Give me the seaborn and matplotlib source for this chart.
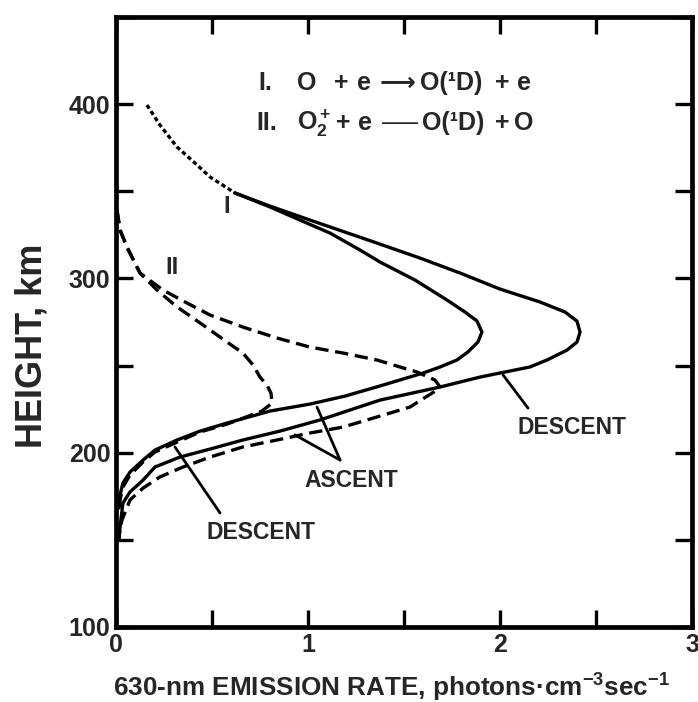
import matplotlib
matplotlib.use("Agg")
import matplotlib.pyplot as plt
import numpy as np
import pandas as pd
import seaborn as sns

# ---------------- data ----------------
i_top_x = [0.161, 0.229, 0.318, 0.411, 0.490, 0.620]
i_top_y = [399.5, 388.0, 375.4, 366.2, 358.2, 349.0]

i_desc_x = [0.620, 0.802, 1.010, 1.359, 1.583, 1.792, 2.000, 2.208, 2.339, 2.401,
            2.417, 2.401, 2.349, 2.245, 2.156, 1.896, 1.688, 1.375, 1.063, 0.854,
            0.661, 0.490, 0.333, 0.203, 0.141, 0.073, 0.036, 0.021, 0.016]
i_desc_y = [349.0, 341.5, 333.5, 320.3, 311.7, 303.1, 293.9, 286.5, 280.7, 275.5,
            269.2, 263.5, 258.9, 253.2, 249.2, 243.4, 237.7, 230.2, 218.8, 212.4,
            207.3, 202.1, 197.5, 191.8, 184.3, 177.5, 171.1, 157.4, 149.9]

i_asc_x = [0.620, 0.802, 0.958, 1.115, 1.271, 1.375, 1.557, 1.724, 1.818, 1.880,
           1.906, 1.885, 1.833, 1.776, 1.688, 1.599, 1.375, 1.193, 1.010, 0.802,
           0.578, 0.438, 0.318, 0.203, 0.141, 0.073, 0.036, 0.021, 0.016]
i_asc_y = [349.0, 341.0, 333.5, 326.0, 316.3, 309.4, 299.1, 287.6, 280.7, 275.6,
           269.2, 263.5, 257.8, 253.2, 249.2, 245.7, 238.3, 232.5, 227.9, 223.9,
           217.0, 212.4, 207.3, 201.5, 195.8, 188.9, 182.6, 175.7, 168.3]

ii_asc_x = [0.005, 0.021, 0.057, 0.125, 0.245, 0.370, 0.490, 0.661, 0.839, 1.010,
            1.182, 1.359, 1.479, 1.568, 1.661, 1.688, 1.672, 1.531, 1.359, 1.182,
            1.010, 0.839, 0.661, 0.490, 0.349, 0.229, 0.141, 0.073, 0.031, 0.016]
ii_asc_y = [339.2, 327.8, 318.0, 303.1, 293.3, 285.9, 279.0, 272.1, 265.8, 260.6,
            257.2, 253.2, 249.2, 246.3, 241.7, 237.7, 236.0, 226.2, 220.5, 214.7,
            211.3, 207.3, 203.3, 197.5, 191.8, 186.1, 179.7, 172.9, 161.4, 152.8]

ii_desc_x = [0.005, 0.021, 0.057, 0.125, 0.214, 0.318, 0.401, 0.490, 0.578, 0.661,
             0.714, 0.750, 0.786, 0.807, 0.813, 0.760, 0.578, 0.438, 0.318, 0.203,
             0.141, 0.073, 0.036, 0.021, 0.016]
ii_desc_y = [339.2, 327.8, 318.0, 303.1, 293.3, 283.6, 277.3, 270.4, 263.5, 257.2,
             250.3, 243.4, 238.8, 234.3, 228.5, 223.9, 216.4, 211.9, 206.1, 200.4,
             194.7, 187.2, 180.3, 172.9, 166.0]

x_tick_labels = ["0", "1", "2", "3"]
y_tick_labels = ["100", "200", "300", "400"]

# reaction equations, split into pieces (text, left pixel, font size)
eq1_parts = [("I.", 258, 18), ("O", 297, 18), ("+", 334, 18), ("e", 357, 18),
             ("\u27f6", 380, 18), ("O(\u00b9D)", 420, 18), ("+", 495, 18), ("e", 517, 18)]
eq2_parts = [("II.", 256, 18), ("O$_2^+$", 297, 18), ("+", 336, 18), ("e", 358, 18),
             ("\u2014\u2014", 382, 13), ("O(\u00b9D)", 422, 18), ("+", 495, 18), ("O", 514, 18)]

# ---------------- style ----------------
sns.set_style("ticks")
FAM = ["Liberation Sans", "DejaVu Sans"]
plt.rcParams["font.family"] = FAM
plt.rcParams["font.weight"] = "bold"
plt.rcParams["mathtext.fontset"] = "custom"
plt.rcParams["mathtext.rm"] = "Liberation Sans:bold"
plt.rcParams["mathtext.it"] = "Liberation Sans:bold"
plt.rcParams["mathtext.bf"] = "Liberation Sans:bold"
plt.rcParams["lines.solid_joinstyle"] = "round"
plt.rcParams["lines.dash_joinstyle"] = "round"

frames = []
for name, xs, ys in [("I top", i_top_x, i_top_y),
                     ("I descent", i_desc_x, i_desc_y),
                     ("I ascent", i_asc_x, i_asc_y),
                     ("II ascent", ii_asc_x, ii_asc_y),
                     ("II descent", ii_desc_x, ii_desc_y)]:
    frames.append(pd.DataFrame({"rate": xs, "height": ys, "curve": name}))
df = pd.concat(frames, ignore_index=True)

W, H = 698, 702
fig = plt.figure(figsize=(W / 100, H / 100), dpi=100)
ax = fig.add_axes([116 / W, 1 - 627 / H, 576 / W, 610 / H])

dash_map = {"I top": (1.3, 0.9), "I descent": "", "I ascent": "",
            "II ascent": (4, 2.0), "II descent": (4, 2.0)}
sns.lineplot(data=df, x="rate", y="height", style="curve", units="curve",
             dashes=dash_map, sort=False, estimator=None, color="black",
             linewidth=2.4, legend=False, ax=ax)

ax.set_xlim(0, 3)
ax.set_ylim(100, 450)

ax.set_xticks([0, 1, 2, 3])
ax.set_xticklabels(x_tick_labels)
ax.set_xticks([0.5, 1.5, 2.5], minor=True)
ax.set_yticks([100, 200, 300, 400])
ax.set_yticklabels(y_tick_labels)
ax.set_yticks([150, 250, 350, 450], minor=True)

for which in ("major", "minor"):
    ax.tick_params(axis="both", which=which, direction="in", length=12, width=2.4,
                   top=True, right=True, color="black")
ax.tick_params(axis="both", which="major", labelsize=18, pad=4)
for lab in ax.get_xticklabels() + ax.get_yticklabels():
    lab.set_fontweight("bold")

for sp in ax.spines.values():
    sp.set_linewidth(3.4)
    sp.set_color("black")

ax.set_xlabel("630-nm EMISSION RATE, photons\u00b7cm$^{-3}$sec$^{-1}$",
              fontsize=18.8, fontweight="bold", ha="left", va="center")
ax.xaxis.set_label_coords(-0.005, -0.1)
ax.set_ylabel("HEIGHT, km", fontsize=26, fontweight="bold", va="center")
ax.yaxis.set_label_coords(-0.146, 0.461)

# equations
for parts, base in ((eq1_parts, 90), (eq2_parts, 130)):
    for txt, px, fs in parts:
        b = base - (2 if fs < 18 else 0)
        fig.text(px / W, 1 - b / H, txt, fontsize=fs, fontweight="bold",
                 ha="left", va="baseline")

# curve labels
ax.text(0.578, 341.0, "I", fontsize=17, fontweight="bold", ha="center", va="center")
ax.text(0.292, 306.0, "II", fontsize=17, fontweight="bold", ha="center", va="center")

lp = dict(arrowstyle="-", color="black", lw=2.0, shrinkA=0, shrinkB=0)
ax.text(2.375, 214.2, "DESCENT", fontsize=16.5, fontweight="bold", ha="center", va="center")
ax.annotate("", xy=(2.016, 244.6), xytext=(2.146, 225.6), arrowprops=lp)

ax.text(1.224, 184.3, "ASCENT", fontsize=16.5, fontweight="bold", ha="center", va="center")
ax.annotate("", xy=(1.047, 226.2), xytext=(1.167, 195.8), arrowprops=lp)
ax.annotate("", xy=(0.932, 210.2), xytext=(1.167, 195.8), arrowprops=lp)

ax.text(0.755, 154.5, "DESCENT", fontsize=16.5, fontweight="bold", ha="center", va="center")
ax.annotate("", xy=(0.307, 203.3), xytext=(0.542, 165.4), arrowprops=lp)

fig.savefig("out.png", dpi=100)
